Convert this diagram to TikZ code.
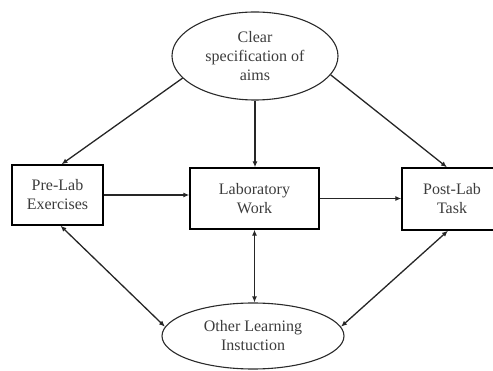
\documentclass[tikz,border=0pt]{standalone}
\usepackage{fontspec}
\setmainfont{Liberation Serif}
\usetikzlibrary{shapes.geometric,arrows.meta}
\definecolor{txtgray}{HTML}{3C3C3C}
\definecolor{linegray}{HTML}{2A2A2A}
\begin{document}
\begin{tikzpicture}[x=1pt,y=-1pt,
  every node/.style={font=\fontsize{16}{19}\selectfont, text=txtgray, align=center, inner sep=0pt},
  oval/.style={ellipse, draw=linegray, line width=1.1pt},
  stage/.style={rectangle, draw=black, line width=1.4pt},
  link/.style={draw=black!85, line width=1.3pt, -{Latex[length=6pt,width=5pt]}},
  twoway/.style={link, {Latex[length=6pt,width=5pt]}-{Latex[length=6pt,width=5pt]}}]
\useasboundingbox (0,0) rectangle (493,371);
\clip (0,0) rectangle (493,371);
% nodes
\node[oval, minimum width=166pt, minimum height=88pt] (aims) at (255,56) {Clear\\specification of\\aims};
\node[stage, minimum width=91pt, minimum height=60pt] (pre) at (57.5,195) {Pre-Lab\\Exercises};
\node[stage, minimum width=129pt, minimum height=61pt] (lab) at (254.5,198.5) {Laboratory\\Work};
\node[stage, minimum width=100pt, minimum height=62pt] (post) at (452,199) {Post-Lab\\Task};
\node[oval, minimum width=182pt, minimum height=66pt] (other) at (253,336) {Other Learning\\Instuction};
% connectors from the aims
\draw[link] (aims.197) -- ([xshift=4pt]pre.north);
\draw[link] (aims.346) -- ([xshift=-5pt]post.north);
\draw[link] (aims.south) -- (aims.south |- lab.north);
% main sequence
\draw[link] (pre.east) -- (pre.east -| lab.west);
\draw[link] (lab.east) -- (lab.east -| post.west);
% two-way links with the other learning
\draw[twoway] (lab.south) -- (lab.south |- other.north);
\draw[twoway] ([xshift=3pt]pre.south) -- (other.174);
\draw[twoway] ([xshift=-4pt]post.south) -- (other.6);
\end{tikzpicture}
\end{document}
